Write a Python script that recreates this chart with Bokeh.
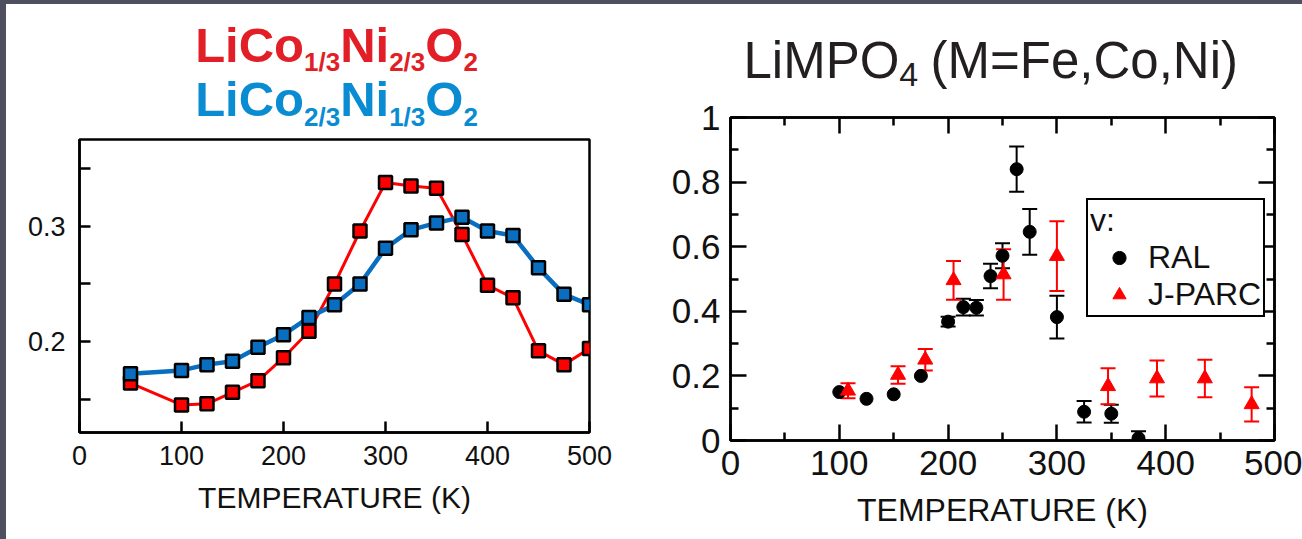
import numpy as np
from bokeh.plotting import figure
from bokeh.models import (ColumnDataSource, Range1d, FixedTicker, LinearAxis, Whisker,
                          TeeHead, Legend, LegendItem, CustomJSTickFormatter, Spacer)
from bokeh.layouts import row, column
from bokeh.core.properties import value
from bokeh.embed import file_html
from bokeh.resources import INLINE

# ---------------- data: layered LiCo(1-x)Ni(x)O2 ----------------
temps_layered = [50, 100, 125, 150, 175, 200, 225, 250, 275, 300,
                 325, 350, 375, 400, 425, 450, 475, 500]
v_co13_ni23 = [0.164, 0.145, 0.146, 0.156, 0.166, 0.186, 0.209, 0.250, 0.296, 0.338,
               0.335, 0.333, 0.293, 0.249, 0.238, 0.192, 0.180, 0.194]
v_co23_ni13 = [0.172, 0.175, 0.180, 0.183, 0.195, 0.206, 0.221, 0.232, 0.250, 0.281,
               0.297, 0.303, 0.308, 0.296, 0.292, 0.264, 0.241, 0.232]

# ---------------- data: olivine LiMPO4 ----------------
ral_temp = [100, 125, 150, 175, 200, 214, 226, 239, 250, 263, 275, 300, 325, 350, 375]
ral_v = [0.150, 0.129, 0.143, 0.200, 0.368, 0.413, 0.411, 0.509, 0.572, 0.840,
         0.646, 0.382, 0.089, 0.083, 0.007]
ral_err = [0.0, 0.0, 0.0, 0.0, 0.015, 0.026, 0.024, 0.038, 0.039, 0.070,
           0.071, 0.066, 0.033, 0.028, 0.022]

jparc_temp = [108, 154, 179, 205, 251, 300, 347, 392, 436, 479]
jparc_v = [0.154, 0.203, 0.250, 0.496, 0.514, 0.571, 0.168, 0.192, 0.192, 0.112]
jparc_err = [0.023, 0.027, 0.033, 0.060, 0.078, 0.108, 0.056, 0.056, 0.058, 0.053]

# ---------------- ticks ----------------
layered_xticks = [0, 100, 200, 300, 400, 500]
layered_yticks = [0.2, 0.3]
layered_yminor = [0.15, 0.25, 0.35]
olivine_xticks = [0, 100, 200, 300, 400, 500]
olivine_xminor = [50, 150, 250, 350, 450]
olivine_yticks = [0, 0.2, 0.4, 0.6, 0.8, 1.0]
olivine_yminor = [0.1, 0.3, 0.5, 0.7, 0.9]

FONT = "Liberation Sans"
STRIPE = "#4E5060"
RED_TITLE = "#E21F26"
BLUE_TITLE = "#0A8CD2"
RED = "#FF0000"
BLUE = "#0A6EC0"
INK = "#111111"

# Arial-metric advance widths (per 1000 em) for composing formulas
ADV_BOLD = {"L": 611, "i": 278, "C": 722, "o": 611, "N": 722, "O": 778,
            "1": 556, "2": 556, "3": 556, "/": 278, " ": 278}
ADV_REG = {"L": 556, "i": 222, "M": 833, "P": 667, "O": 778, "4": 556, " ": 278,
           "(": 333, ")": 333, "=": 584, "F": 611, "e": 556, ",": 278, "C": 722,
           "o": 556, "N": 722}
# the text glyph is anchored about this fraction of an em above the baseline
BASELINE_SHIFT = 0.365


def text_width(s, size, adv):
    return sum(adv[c] for c in s) * size / 1000.0


def title_canvas(width, height):
    f = figure(width=width, height=height, x_range=Range1d(0, width),
               y_range=Range1d(height, 0), x_axis_type=None, y_axis_type=None,
               toolbar_location=None, output_backend="svg", min_border=0,
               frame_align=False)
    f.grid.visible = False
    f.outline_line_color = None
    f.background_fill_color = "white"
    f.border_fill_color = "white"
    return f


def draw_formula(f, pieces, baseline, main_size, sub_size, sub_drop,
                 color, adv, style, center_x=None, start_x=None):
    """pieces: list of (text, is_subscript, gap_before_in_em)."""
    sizes = [sub_size if sub else main_size for _, sub, _ in pieces]
    total = sum(text_width(s, sz, adv) + g * sz for (s, _, g), sz in zip(pieces, sizes))
    x = start_x if start_x is not None else center_x - total / 2.0
    for (s, sub, gap), sz in zip(pieces, sizes):
        x += gap * sz
        base = baseline + (sub_drop if sub else 0)
        f.text(x=[x], y=[base - BASELINE_SHIFT * sz], text=[s],
               text_font=value(FONT), text_font_size=f"{sz}px",
               text_font_style=style, text_color=color,
               text_baseline="alphabetic", text_align="left")
        x += text_width(s, sz, adv)


def style_axis(ax, label_size, tick_in, minor_in, standoff, width=2.5):
    ax.axis_line_color = "black"
    ax.axis_line_width = width
    ax.major_tick_in = tick_in
    ax.major_tick_out = 0
    ax.minor_tick_in = minor_in
    ax.minor_tick_out = 0
    ax.major_tick_line_color = "black"
    ax.major_tick_line_width = width
    ax.minor_tick_line_color = "black"
    ax.minor_tick_line_width = width
    ax.major_label_text_font = FONT
    ax.major_label_text_font_size = f"{label_size}px"
    ax.major_label_text_color = INK
    ax.major_label_standoff = standoff


# ================= left panel =================
title_left = title_canvas(644, 131)
draw_formula(title_left, [("LiCo", False, 0), ("1/3", True, 0), ("Ni", False, 0),
                          ("2/3", True, 0), ("O", False, 0), ("2", True, 0)],
             58, 49, 26, 9, RED_TITLE, ADV_BOLD, "bold", center_x=330)
draw_formula(title_left, [("LiCo", False, 0), ("2/3", True, 0), ("Ni", False, 0),
                          ("1/3", True, 0), ("O", False, 0), ("2", True, 0)],
             112.5, 49, 26, 9, BLUE_TITLE, ADV_BOLD, "bold", center_x=330)

p1 = figure(width=644, height=404, x_range=Range1d(0, 500), y_range=Range1d(0.1211, 0.3754),
            toolbar_location=None, output_backend="svg", frame_align=False,
            min_border_left=73, min_border_right=61, min_border_top=4, min_border_bottom=107)
p1.grid.visible = False
p1.background_fill_color = "white"
p1.border_fill_color = "white"
p1.outline_line_color = "black"
p1.outline_line_width = 2.5

src_layered = ColumnDataSource(dict(t=temps_layered, a=v_co13_ni23, b=v_co23_ni13))
p1.line("t", "a", source=src_layered, line_color=RED, line_width=3)
p1.scatter("t", "a", source=src_layered, marker="square", size=13,
           fill_color=RED, line_color="black", line_width=2.5)
p1.line("t", "b", source=src_layered, line_color=BLUE, line_width=4.5)
p1.scatter("t", "b", source=src_layered, marker="square", size=13,
           fill_color=BLUE, line_color="black", line_width=2.5)

x1 = p1.xaxis[0]
y1 = p1.yaxis[0]
x1.ticker = FixedTicker(ticks=layered_xticks)
y1.ticker = FixedTicker(ticks=layered_yticks, minor_ticks=layered_yminor)
style_axis(x1, 27, 11, 0, 13)
style_axis(y1, 27, 11, 11, 14)
x1.minor_tick_line_color = None
x1.axis_label = "TEMPERATURE (K)"
x1.axis_label_text_font = FONT
x1.axis_label_text_font_size = "30px"
x1.axis_label_text_font_style = "normal"
x1.axis_label_text_color = INK
x1.axis_label_standoff = 13

# ================= right panel =================
title_right = title_canvas(652, 92)
draw_formula(title_right, [("LiMPO", False, 0), ("4", True, 0), ("(M=Fe,Co,Ni)", False, 0.24)],
             74.5, 51, 34, 8, "#231F20", ADV_REG, "normal", start_x=93)

p2 = figure(width=652, height=443, x_range=Range1d(0, 500), y_range=Range1d(0, 1),
            toolbar_location=None, output_backend="svg", frame_align=False,
            min_border_left=80, min_border_right=28, min_border_top=21, min_border_bottom=99)
p2.grid.visible = False
p2.background_fill_color = "white"
p2.border_fill_color = "white"
p2.outline_line_color = "black"
p2.outline_line_width = 2.5

x2 = p2.xaxis[0]
y2 = p2.yaxis[0]
blank = CustomJSTickFormatter(code="return ''")
top_axis = LinearAxis(formatter=blank)
right_axis = LinearAxis(formatter=blank)
p2.add_layout(top_axis, "above")
p2.add_layout(right_axis, "right")

for ax in [x2, top_axis]:
    ax.ticker = FixedTicker(ticks=olivine_xticks, minor_ticks=olivine_xminor)
for ax in [y2, right_axis]:
    ax.ticker = FixedTicker(ticks=olivine_yticks, minor_ticks=olivine_yminor)
style_axis(x2, 35, 16, 8, 10)
style_axis(y2, 35, 16, 8, 10)
style_axis(top_axis, 1, 16, 8, 0)
style_axis(right_axis, 1, 16, 8, 0)
y2.major_label_overrides = {0: "0", 1: "1"}
x2.axis_label = "TEMPERATURE (K)"
x2.axis_label_text_font = FONT
x2.axis_label_text_font_size = "32px"
x2.axis_label_text_font_style = "normal"
x2.axis_label_text_color = INK
x2.axis_label_standoff = 14

ral = dict(t=np.array(ral_temp, float), v=np.array(ral_v), e=np.array(ral_err))
has_bar = ral["e"] > 0
ral_bars = ColumnDataSource(dict(t=ral["t"][has_bar],
                                 lo=(ral["v"] - ral["e"])[has_bar],
                                 hi=(ral["v"] + ral["e"])[has_bar]))
jp = dict(t=np.array(jparc_temp, float), v=np.array(jparc_v), e=np.array(jparc_err))
jp_bars = ColumnDataSource(dict(t=jp["t"], lo=jp["v"] - jp["e"], hi=jp["v"] + jp["e"]))

for src, col in [(ral_bars, "black"), (jp_bars, RED)]:
    w = Whisker(source=src, base="t", lower="lo", upper="hi", line_color=col, line_width=2,
                upper_head=TeeHead(size=15, line_color=col, line_width=2),
                lower_head=TeeHead(size=15, line_color=col, line_width=2))
    p2.add_layout(w)

r_ral = p2.scatter(x=ral_temp, y=ral_v, marker="circle", size=13,
                   fill_color="black", line_color="black")
r_jp = p2.scatter(x=jparc_temp, y=jparc_v, marker="triangle", size=15,
                  fill_color=RED, line_color=RED)

legend = Legend(items=[LegendItem(label="RAL", renderers=[r_ral]),
                       LegendItem(label="J-PARC", renderers=[r_jp])],
                location=(356, 123), title="v:")
legend.title_text_font = FONT
legend.title_text_font_size = "32px"
legend.title_text_font_style = "normal"
legend.title_text_color = INK
legend.title_standoff = 0
legend.label_text_font = FONT
legend.label_text_font_size = "32px"
legend.label_text_color = INK
legend.glyph_width = 58
legend.glyph_height = 33
legend.label_standoff = 0
legend.padding = 2
legend.margin = 0
legend.spacing = 0
legend.border_line_color = "black"
legend.border_line_alpha = 1
legend.border_line_width = 2
legend.background_fill_color = "white"
legend.background_fill_alpha = 1
p2.add_layout(legend)

# ================= page =================
left_col = column(title_left, p1)
right_col = column(title_right, p2)
body = row(Spacer(width=6, height=535, styles={"background-color": STRIPE}), left_col, right_col)
page = column(Spacer(width=1302, height=4, styles={"background-color": STRIPE}), body)

open("out.html", "w").write(file_html(page, INLINE))
